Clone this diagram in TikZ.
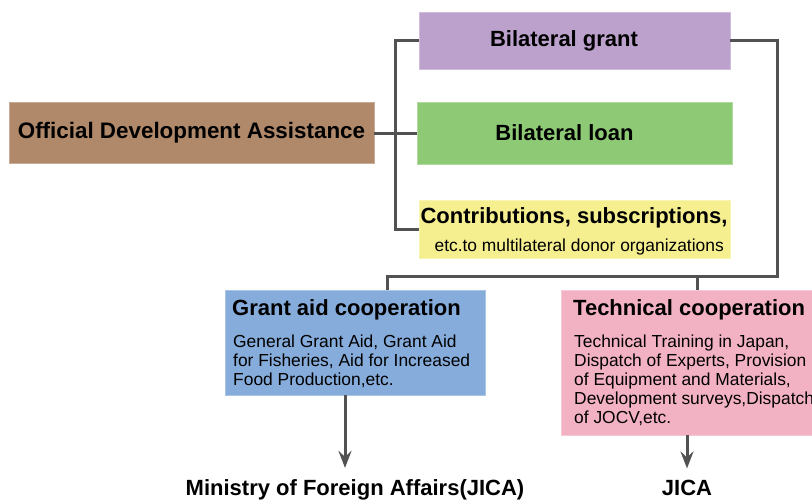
\documentclass[tikz,border=0pt]{standalone}
\usepackage{fontspec}
\setmainfont{Liberation Sans}
\usetikzlibrary{arrows.meta}
\definecolor{odac}{RGB}{176,136,106}
\definecolor{grantc}{RGB}{187,161,204}
\definecolor{loanc}{RGB}{142,202,118}
\definecolor{contc}{RGB}{245,239,143}
\definecolor{gac}{RGB}{134,172,219}
\definecolor{tcc}{RGB}{243,178,196}
\definecolor{linec}{RGB}{82,82,82}
\begin{document}
\begin{tikzpicture}[x=1pt,y=-1pt,
  box/.style={rectangle, inner sep=0pt, draw=#1!70!white, fill=#1, line width=0.6pt},
  ttl/.style={font=\bfseries\fontsize{22}{24}\selectfont, inner sep=0pt},
  dsc/.style={font=\fontsize{17.4}{18.8}\selectfont, inner sep=0pt, align=left},
  conn/.style={draw=linec, line width=3pt},
  arr/.style={conn, -{Stealth[length=17pt,width=13pt,inset=6pt]}}]
\useasboundingbox[fill=white] (0,0) rectangle (812,499);

% boxes
\node[box=odac, minimum width=365pt, minimum height=61pt] (oda) at (191.5,133) {};
\node[ttl, font=\bfseries\fontsize{22.4}{24}\selectfont] (odat) at (191.5,133) {Official Development Assistance};

\node[box=grantc, minimum width=311pt, minimum height=57pt] (bg) at (574.5,40.5) {};
\node[ttl] (bgt) at (564,40.5) {Bilateral grant};

\node[box=loanc, minimum width=315pt, minimum height=62pt] (bl) at (574.5,133) {};
\node[ttl] (blt) at (564.5,133) {Bilateral loan};

\node[box=contc, minimum width=311pt, minimum height=58pt] (ct) at (574.5,229) {};
\node[ttl] (ctt) at (574,218) {Contributions, subscriptions,};
\node[dsc, anchor=east] (ctd) at (724,247) {etc.to multilateral donor organizations};

\node[box=gac, minimum width=260pt, minimum height=105pt] (ga) at (355,342.5) {};
\node[ttl, anchor=west] (gat) at (232,310) {Grant aid cooperation};
\node[dsc, anchor=north west] (gad) at (233,335) {General Grant Aid, Grant Aid\\for Fisheries, Aid for Increased\\Food Production,etc.};

\node[box=tcc, minimum width=279pt, minimum height=145pt] (tc) at (700.5,362.5) {};
\node[ttl, anchor=west] (tct) at (573,310) {Technical cooperation};
\node[dsc, anchor=north west] (tcd) at (574,335) {Technical Training in Japan,\\Dispatch of Experts, Provision\\of Equipment and Materials,\\Development surveys,Dispatch\\of JOCV,etc.};

\node[ttl, anchor=base] (mofa) at (355,495) {Ministry of Foreign Affairs(JICA)};
\node[ttl, anchor=base] (jica) at (687,495) {JICA};

% connectors
\coordinate (rc) at (777,276);
\coordinate (gaj) at (387,276);
\coordinate (tcj) at (697,276);

\draw[conn] (oda.east) -- (bl.west);
\draw[conn] (bg.west) -- ++(-23,0) |- (ct.west);
\draw[conn] (bg.east) -| (rc) -- (gaj) -- (gaj |- ga.north);
\draw[conn] (tcj) -- (tcj |- tc.north);

\draw[arr, shorten >=11pt] ([xshift=-10pt]ga.south) -- ([xshift=-10pt]mofa.north);
\draw[arr, shorten >=11pt] ([xshift=-13.5pt]tc.south) -- (jica.north);
\end{tikzpicture}
\end{document}
